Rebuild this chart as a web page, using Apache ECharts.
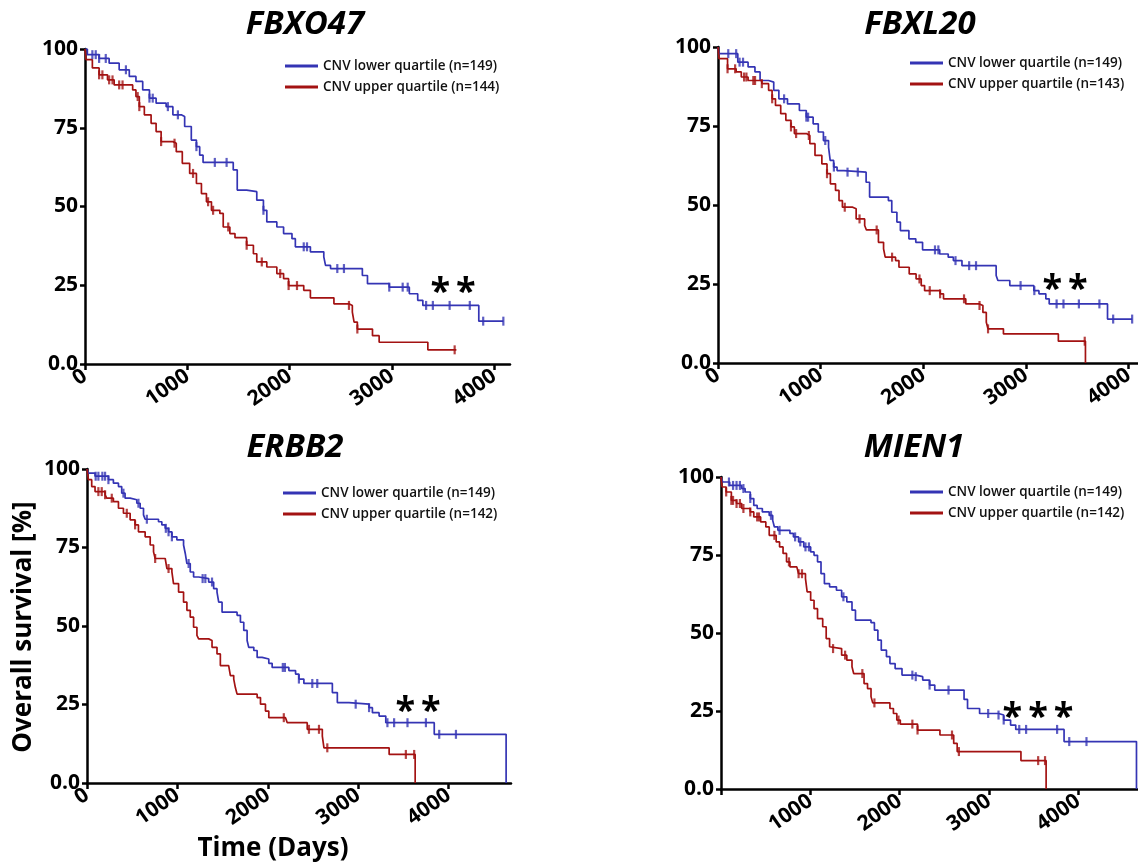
<!DOCTYPE html>
<html lang="en">
<head>
    <meta charset="UTF-8">
    <title>CNV quartile survival</title>
    <script src="https://cdn.jsdelivr.net/npm/echarts@6/dist/echarts.min.js"></script>
    <style>
        body { margin: 0; background: #fff; }
        #chart { width: 1138px; height: 864px; }
    </style>
</head>
<body>
<div id="chart"></div>
<script>
    // ---- data: [days, survival %] steps ----
    var fbxo47Lower = [[0,100],[23,98.2],[138,97],[236,95.5],[334,93.4],[433,91.3],[498,89.7],[564,87],[630,84.4],[695,82.8],[793,81.7],[859,79.1],[941,78.6],[974,75.4],[1039,71.1],[1089,69],[1121,66.3],[1154,64],[1449,61.6],[1488,55.2],[1580,54.7],[1679,52],[1744,48.8],[1777,45.1],[1875,43.5],[1941,41.4],[2023,39.8],[2056,37.2],[2203,35.6],[2334,34],[2351,31.3],[2400,30.3],[2711,28.1],[2761,25.5],[2974,24.4],[3170,22.3],[3252,20.2],[3302,18.6],[3849,13.6],[4089,13.6]];
    var fbxo47Upper = [[0,100],[10,96.6],[72,94],[138,91.8],[220,90.2],[285,88.6],[466,87],[498,84.9],[531,81.7],[580,79.1],[646,76.4],[695,73.8],[744,70.6],[859,70.1],[892,67.4],[951,63.7],[1023,60.5],[1089,57.3],[1138,54.1],[1187,51.5],[1236,48.8],[1318,47.8],[1351,43.5],[1416,41.4],[1466,40.1],[1580,37.7],[1646,35],[1679,32.4],[1777,30.8],[1875,28.7],[1941,27.1],[1990,24.9],[2138,23.4],[2203,21],[2433,19.1],[2580,18.6],[2613,16.5],[2630,13.3],[2662,11.1],[2810,9],[2875,6.9],[3351,4.5],[3630,4.5]];
    var fbxo47LowerCens = [72,105,138,203,400,630,662,810,908,1089,1269,1384,1744,2138,2170,2466,2531,2974,3105,3154,3334,3400,3564,3761,3892,4089];
    var fbxo47UpperCens = [138,170,236,269,334,367,515,531,744,875,1056,1203,1252,1400,1580,1728,1908,1990,2072,2580,2662,3613];

    var fbxl20Lower = [[0,100],[10,97.9],[193,95.2],[293,93.7],[360,92.1],[410,89.4],[493,88.9],[543,86.3],[593,83.6],[677,82],[793,79.9],[860,77.8],[927,75.7],[977,73.1],[1027,70.4],[1077,68.3],[1093,64.1],[1127,62],[1160,60.9],[1227,60.4],[1443,57.2],[1477,52.5],[1660,51.4],[1693,47.7],[1743,44.6],[1777,41.9],[1860,39.3],[1927,38.2],[1993,35.8],[2160,34.5],[2243,33.5],[2293,32.4],[2377,30.8],[2710,27.7],[2727,26.1],[2843,24.5],[3077,22.9],[3127,21.9],[3194,20.3],[3227,18.7],[3795,13.9],[4035,13.9]];
    var fbxl20Upper = [[0,100],[10,96.3],[93,93.1],[177,92.1],[227,90.5],[293,89.4],[427,88.4],[493,86.3],[527,83.6],[560,81.5],[611,78.9],[661,76.8],[711,74.7],[744,72.6],[861,72],[895,69.4],[945,65.7],[1012,63],[1062,59.9],[1095,56.7],[1145,54.6],[1179,51.4],[1212,49.3],[1312,48.8],[1346,45.6],[1429,43.5],[1446,42.1],[1563,38.2],[1613,36.1],[1629,33.5],[1730,32.4],[1763,30.3],[1863,28.2],[1930,26.6],[1980,24.5],[2013,22.9],[2164,21.9],[2197,20.3],[2414,18.7],[2547,18.2],[2581,16],[2614,12.9],[2631,10.8],[2781,9.2],[3316,6.9],[3580,0]];
    var fbxl20LowerCens = [100,177,210,244,644,861,878,1045,1129,1262,1362,2114,2147,2314,2447,2514,2948,3082,3299,3366,3516,3716,3850,4035];
    var fbxl20UpperCens = [93,167,254,277,344,361,427,528,711,761,885,1062,1235,1379,1546,1696,1963,2063,2164,2397,2548,2631,3573];

    var erbb2Lower = [[0,100],[15,98.7],[89,97.7],[237,96.6],[292,95.5],[348,94.4],[384,92.3],[421,90.7],[477,90.2],[551,89.1],[588,87.5],[625,85.4],[643,84],[791,83.2],[828,82.2],[865,81.1],[902,80],[939,78.4],[994,77.4],[1068,75.8],[1087,73.1],[1105,69.9],[1142,67.2],[1179,65.6],[1235,65.1],[1346,64],[1401,61.9],[1438,60.8],[1457,57.6],[1494,54.4],[1660,53.4],[1697,51.2],[1734,48.6],[1771,45.4],[1789,43.2],[1845,42.2],[1882,40],[1937,39.5],[2011,38.1],[2048,36.8],[2233,35.8],[2307,34.7],[2344,33.1],[2399,31.7],[2714,28.8],[2769,25.6],[2898,25.1],[3120,24],[3157,22.4],[3231,21.3],[3305,19.2],[3841,15.5],[4636,0]];
    var erbb2Upper = [[0,100],[15,96.6],[52,94.4],[89,92.8],[200,91.8],[218,90.7],[292,89.6],[348,87.5],[403,85.9],[477,83.8],[532,82.2],[569,80],[643,78.4],[699,75.8],[736,73.6],[754,71.5],[865,71],[884,68.3],[939,67.2],[957,63.5],[1013,60.8],[1068,57.6],[1105,55],[1142,52.8],[1179,49.6],[1216,47],[1235,45.9],[1346,45.4],[1383,43.2],[1438,41.1],[1475,37.4],[1567,36.8],[1586,34.2],[1623,33.1],[1641,30.4],[1660,28.3],[1882,27.2],[1919,25.1],[1974,22.9],[2011,20.8],[2196,20.3],[2215,19.2],[2436,17.1],[2603,14.9],[2621,11.2],[3342,9.1],[3630,0]];
    var erbb2LowerCens = [96,126,170,200,237,403,569,662,872,902,939,1124,1279,1309,1383,2166,2189,2344,2492,2547,2972,3120,3323,3397,3545,3749,3896,4081];
    var erbb2UpperCens = [126,163,200,274,440,532,754,902,2177,2455,2566,2658,3527,3619];

    var mien1Lower = [[0,100],[19,98.4],[97,97.3],[232,96.3],[270,95.2],[328,93.1],[367,90.9],[405,89.9],[463,88.8],[540,87.7],[579,86.1],[598,84],[637,82.9],[772,81.9],[811,80.8],[869,79.2],[927,77.6],[1004,76],[1042,74.9],[1081,72.8],[1120,69],[1158,65.8],[1216,64.8],[1293,63.7],[1351,61.6],[1409,60],[1467,57.3],[1506,54.1],[1680,53.3],[1718,50.9],[1757,47.7],[1795,44.5],[1853,42.4],[1892,40.2],[1950,38.6],[2027,36.5],[2181,36],[2259,34.9],[2336,33.3],[2394,31.7],[2722,28.7],[2761,25.8],[2896,24.2],[3108,23.7],[3166,22.1],[3243,20.5],[3301,19.1],[3842,15.2],[4653,0]];
    var mien1Upper = [[0,100],[12,96.8],[58,95.2],[116,92.5],[174,91.5],[232,89.9],[328,88.8],[367,87.2],[444,85.6],[502,84],[540,81.3],[618,79.2],[656,77.6],[695,75.5],[734,72.8],[772,71.2],[849,70.6],[869,69],[946,67.4],[965,63.2],[1004,60.5],[1042,57.8],[1081,54.6],[1139,52],[1178,48.2],[1216,45.6],[1236,45],[1351,42.9],[1409,41.3],[1467,39.2],[1486,37],[1602,33.8],[1641,32.2],[1680,29.6],[1699,27.6],[1892,25.8],[1931,24.2],[1969,22.1],[2008,20.8],[2201,18.9],[2452,17.3],[2606,14.6],[2645,12],[3359,9.1],[3641,0]];
    var mien1LowerCens = [89,135,174,212,251,328,560,656,830,888,946,985,1371,2143,2181,2336,2548,2992,3108,3166,3340,3417,3764,3900,4093];
    var mien1UpperCens = [58,116,135,174,212,251,328,405,425,598,761,869,907,1255,1390,1583,1718,1988,2143,2201,2587,2664,3552,3629];

    var xTicks = [0, 1000, 2000, 3000, 4000];
    var yTicks = [0, 25, 50, 75, 100];

    var panels = [
        {name: 'FBXO47', low: fbxo47Lower, up: fbxo47Upper, lowCens: fbxo47LowerCens, upCens: fbxo47UpperCens,
         lowName: 'CNV lower quartile (n=149)', upName: 'CNV upper quartile (n=144)',
         grid: {left: 85, top: 49, width: 425, height: 315}, xmax: 4154, legendTop: 59, legendLeft: 285,
         titlePos: [305, 25], stars: '**', starPos: [453, 293], zero: true},
        {name: 'FBXL20', low: fbxl20Lower, up: fbxl20Upper, lowCens: fbxl20LowerCens, upCens: fbxl20UpperCens,
         lowName: 'CNV lower quartile (n=149)', upName: 'CNV upper quartile (n=143)',
         grid: {left: 718, top: 47, width: 420, height: 316}, xmax: 4092, legendTop: 56, legendLeft: 910,
         titlePos: [920, 25], stars: '**', starPos: [1065, 290], zero: true},
        {name: 'ERBB2', low: erbb2Lower, up: erbb2Upper, lowCens: erbb2LowerCens, upCens: erbb2UpperCens,
         lowName: 'CNV lower quartile (n=149)', upName: 'CNV upper quartile (n=142)',
         grid: {left: 87, top: 469, width: 424, height: 314}, xmax: 4690, legendTop: 486, legendLeft: 283,
         titlePos: [295, 448], stars: '**', starPos: [418, 712], zero: true},
        {name: 'MIEN1', low: mien1Lower, up: mien1Upper, lowCens: mien1LowerCens, upCens: mien1UpperCens,
         lowName: 'CNV lower quartile (n=149)', upName: 'CNV upper quartile (n=142)',
         grid: {left: 721, top: 477, width: 417, height: 312}, xmax: 4670, legendTop: 485, legendLeft: 910,
         titlePos: [914, 448], stars: '***', starPos: [1038, 718], zero: false}
    ];

    var BLUE = '#3434b4';
    var RED = '#a31212';
    var FONT = '"Open Sans", "DejaVu Sans", sans-serif';

    // survival value of a step curve at a given day (censor marks sit on the curve)
    function survAt(curve, d) {
        var s = curve[0][1];
        for (var i = 0; i < curve.length; i++) {
            if (curve[i][0] <= d) s = curve[i][1];
        }
        return s;
    }

    var grids = [], xAxes = [], yAxes = [], series = [], legends = [], graphics = [];

    panels.forEach(function (p, i) {
        grids.push(p.grid);
        xAxes.push({
            gridIndex: i, type: 'value', min: 0, max: p.xmax,
            axisLine: {lineStyle: {color: '#000', width: 2.5}},
            axisTick: {customValues: xTicks, length: 6, lineStyle: {color: '#000', width: 2.5}},
            axisLabel: {
                customValues: p.zero ? xTicks : xTicks.slice(1),
                rotate: 35, margin: 10, color: '#000', fontSize: 21, fontWeight: 'bold', fontFamily: FONT,
                formatter: function (v) { return String(v); }
            },
            splitLine: {show: false}
        });
        yAxes.push({
            gridIndex: i, type: 'value', min: 0, max: 100,
            axisLine: {show: true, lineStyle: {color: '#000', width: 2.5}},
            axisTick: {show: true, customValues: yTicks, length: 5, lineStyle: {color: '#000', width: 2.5}},
            axisLabel: {
                customValues: yTicks, margin: 7, color: '#000', fontSize: 21, fontWeight: 'bold', fontFamily: FONT,
                formatter: function (v) { return v === 0 ? '0.0' : String(v); }
            },
            splitLine: {show: false}
        });

        [[p.low, p.lowCens, p.lowName, BLUE], [p.up, p.upCens, p.upName, RED]].forEach(function (c) {
            series.push({
                name: c[2], type: 'line', step: 'end', data: c[0],
                xAxisIndex: i, yAxisIndex: i, showSymbol: false, color: c[3],
                lineStyle: {width: 1.7, color: c[3]}, z: 3
            });
            series.push({
                name: c[2] + ' censored', type: 'scatter',
                data: c[1].map(function (d) { return [d, survAt(c[0], d)]; }),
                xAxisIndex: i, yAxisIndex: i, symbol: 'rect', symbolSize: [2.2, 9],
                itemStyle: {color: c[3]}, silent: true, z: 4
            });
        });

        legends.push({
            data: [p.lowName, p.upName], orient: 'vertical', left: p.legendLeft, top: p.legendTop,
            padding: 0, icon: 'rect', itemWidth: 33, itemHeight: 3, itemGap: 7, selectedMode: false,
            textStyle: {fontSize: 13.5, fontWeight: 600, fontFamily: FONT, color: '#111', lineHeight: 14}
        });

        graphics.push({
            type: 'text', x: p.titlePos[0], y: p.titlePos[1],
            style: {text: p.name, fill: '#000', font: 'italic bold 33px ' + FONT, textAlign: 'center', textVerticalAlign: 'middle'}
        });
        graphics.push({
            type: 'text', x: p.starPos[0], y: p.starPos[1],
            style: {text: p.stars.split('').join('\u2009'), fill: '#000', font: 'bold 36px ' + FONT, textAlign: 'center', textVerticalAlign: 'middle'}
        });
    });

    // shared axis names
    graphics.push({
        type: 'text', x: 24, y: 627, rotation: Math.PI / 2,
        style: {text: 'Overall survival [%]', fill: '#000', font: 'bold 26px ' + FONT, textAlign: 'center', textVerticalAlign: 'middle'}
    });
    graphics.push({
        type: 'text', x: 273, y: 849,
        style: {text: 'Time (Days)', fill: '#000', font: 'bold 26px ' + FONT, textAlign: 'center', textVerticalAlign: 'middle'}
    });

    var myChart = echarts.init(document.getElementById('chart'), null, {renderer: 'canvas'});
    myChart.setOption({
        animation: false,
        backgroundColor: '#fff',
        grid: grids,
        xAxis: xAxes,
        yAxis: yAxes,
        legend: legends,
        series: series,
        graphic: graphics
    });
</script>
</body>
</html>
